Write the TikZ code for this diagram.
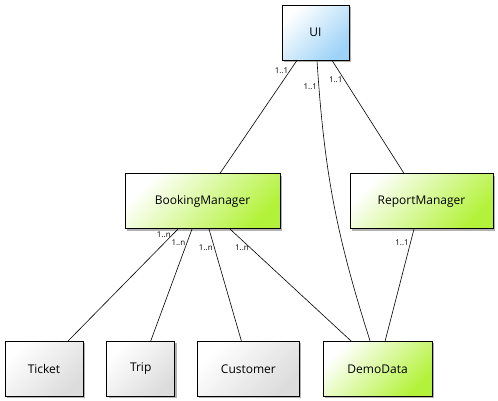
\documentclass[tikz,border=0pt]{standalone}
\usepackage{fontspec}
\setmainfont{Open Sans}
\usepackage{tikz}
\usetikzlibrary{positioning, shadows}

\definecolor{uiblue}{HTML}{9ED3F7}
\definecolor{mgrgreen}{HTML}{B3F23A}
\definecolor{plaingray}{HTML}{DCDCDC}

\begin{document}
\begin{tikzpicture}[x=1pt, y=1pt, auto, thin,
  class node/.style={rectangle,draw,line width=0.7pt,minimum height=55pt,
    font=\fontsize{12}{14}\selectfont,
    left color=white,right color=#1,shading angle=45,
    drop shadow={shadow xshift=2pt,shadow yshift=-2pt,opacity=.3,fill=black}},
  mult/.style={font=\fontsize{8}{9}\selectfont,inner sep=1.5pt}]

\useasboundingbox (0,0) rectangle (498,-400);

\node[class node=uiblue, minimum width=67pt] (UI) at (315.5,-32.5) {UI};
\node[class node=mgrgreen, minimum width=155pt] (BM) [below=113pt of UI, xshift=-113pt] {BookingManager};
\node[class node=mgrgreen, minimum width=143pt] (RM) [below=113pt of UI, xshift=106pt] {ReportManager};

\node[class node=plaingray, minimum width=78pt] (Ticket) [below=112pt of BM, xshift=-158.5pt] {Ticket};
\node[class node=plaingray, minimum width=68pt] (Trip) [right=23pt of Ticket] {Trip};
\node[class node=plaingray, minimum width=102pt] (Customer) [right=22pt of Trip] {Customer};
\node[class node=mgrgreen, minimum width=109pt] (DemoData) [right=23pt of Customer] {DemoData};

\path[line width=0.6pt, every node/.style={mult}]
([xshift=-18.5pt]UI.south) edge node[pos=.09, left] {1..1} ([xshift=17.5pt]BM.north)
([xshift=1.5pt]UI.south) edge[bend right=7] node[pos=.08, left] {1..1} ([xshift=-7.5pt]DemoData.north)
([xshift=16.5pt]UI.south) edge node[pos=.17, left] {1..1} ([xshift=-17.5pt]RM.north)
([xshift=-24.5pt]BM.south) edge node[pos=.05, left] {1..n} ([xshift=24pt]Ticket.north)
([xshift=-10.5pt]BM.south) edge node[pos=.12, left] {1..n} ([xshift=10pt]Trip.north)
([xshift=6.5pt]BM.south) edge node[pos=.17, left] {1..n} ([xshift=-7pt]Customer.north)
([xshift=27.5pt]BM.south) edge node[pos=.17, left] {1..n} ([xshift=-26.5pt]DemoData.north)
([xshift=-7.5pt]RM.south) edge node[pos=.12, left] {1..1} ([xshift=7.5pt]DemoData.north)
;
\end{tikzpicture}
\end{document}
